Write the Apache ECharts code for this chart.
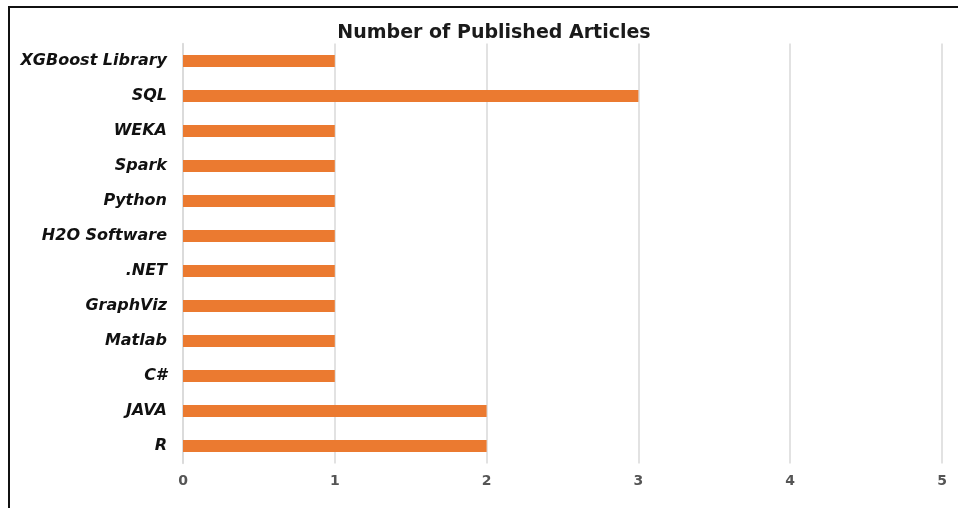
<!DOCTYPE html>
<html>
<head>
<meta charset="utf-8">
<script src="https://cdn.jsdelivr.net/npm/echarts@6/dist/echarts.min.js"></script>
<style>html,body{margin:0;padding:0;background:#fff;}#c{width:958px;height:508px;}</style>
</head>
<body>
<div id="c"></div>
<script>
var categories = ['R', 'JAVA', 'C#', 'Matlab', 'GraphViz', '.NET', 'H2O Software', 'Python', 'Spark', 'WEKA', 'SQL', 'XGBoost Library'];
var articles = [2, 2, 1, 1, 1, 1, 1, 1, 1, 1, 3, 1];
var titleText = 'Number of Published Articles';

var chart = echarts.init(document.getElementById('c'), null, {renderer: 'canvas'});
chart.setOption({
  backgroundColor: '#ffffff',
  animation: false,
  title: {
    text: titleText,
    left: 489, top: 19, textAlign: 'center',
    textStyle: {fontFamily: 'DejaVu Sans', fontWeight: 'bold', fontSize: 19, color: '#1a1a1a'}
  },
  graphic: [{
    type: 'rect', shape: {x: 9, y: 7, width: 960, height: 520},
    style: {fill: 'none', stroke: '#111', lineWidth: 2}, z: 10
  }],
  grid: {left: 183, right: 16, top: 43.5, bottom: 44.5, containLabel: false},
  xAxis: {
    type: 'value', min: 0, max: 5, interval: 1,
    axisLine: {show: false}, axisTick: {show: false},
    splitLine: {lineStyle: {color: '#d9d9d9', width: 1.5}},
    axisLabel: {color: '#555', fontFamily: 'DejaVu Sans', fontWeight: 'bold', fontSize: 14, margin: 11}
  },
  yAxis: {
    type: 'category', data: categories,
    axisLine: {show: true, lineStyle: {color: '#d9d9d9', width: 1.5}},
    axisTick: {show: false},
    axisLabel: {color: '#111', fontFamily: 'DejaVu Sans', fontWeight: 'bold', fontStyle: 'italic', fontSize: 16, margin: 16}
  },
  series: [{
    type: 'bar', data: articles, barWidth: 12,
    itemStyle: {color: '#EB7A30'}
  }]
});
</script>
</body>
</html>
